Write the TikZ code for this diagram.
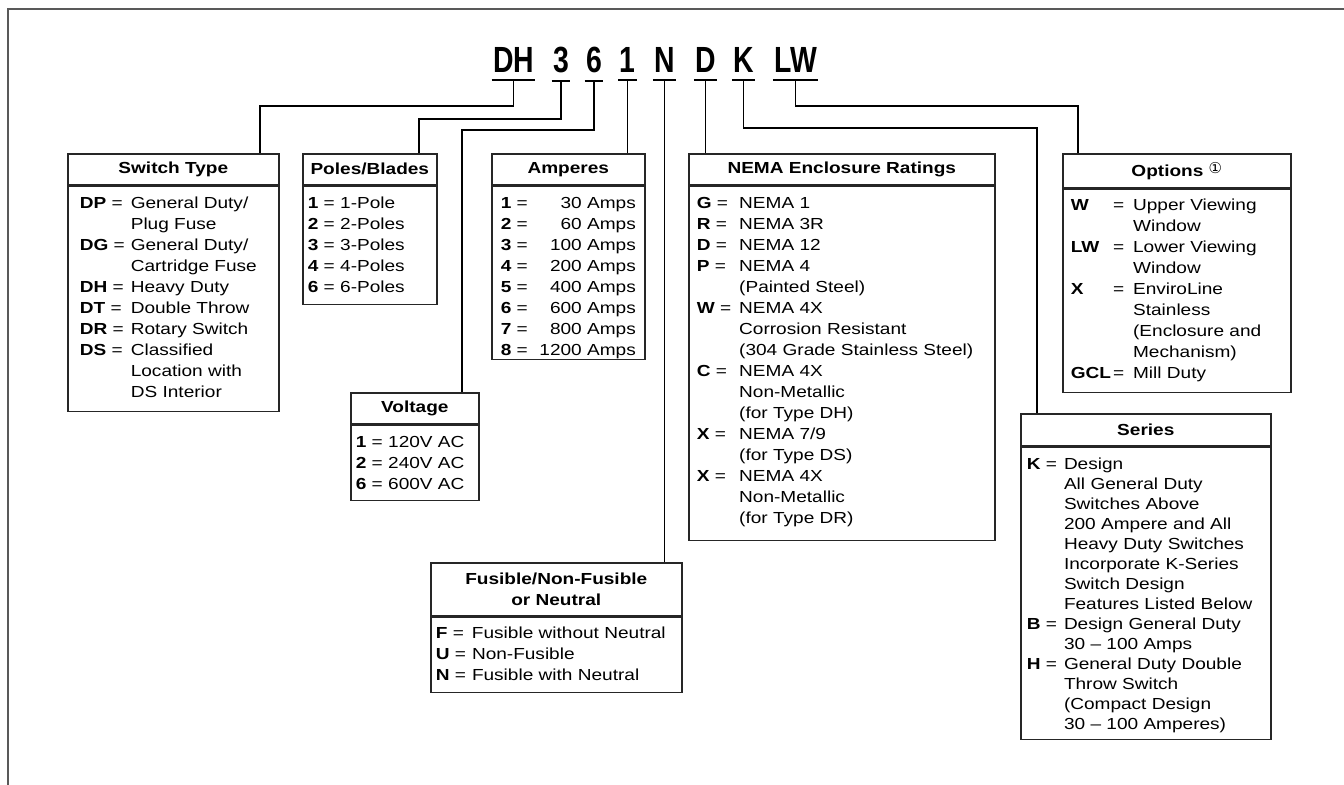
\documentclass[tikz,border=0pt]{standalone}
\usepackage{fontspec}
\setmainfont{Liberation Sans}[FakeStretch=1.19]
\newfontfamily\codefont{Liberation Sans}[FakeStretch=0.78]
\newfontfamily\circfont{DejaVu Sans}
\newcommand{\rows}[1]{\begin{tabular}[t]{@{}l@{}}#1\end{tabular}}
\newcommand{\pairs}[2]{\begin{tabular}[t]{@{}l@{\hspace{#1}}l@{}}#2\end{tabular}}

\begin{document}
\begin{tikzpicture}[x=0.5pt, y=-0.5pt,
    code/.style={font={\codefont\bfseries\fontsize{18.2}{20}\selectfont}, anchor=base, inner xsep=0.5pt, inner ysep=3.5pt},
    uline/.style={line width=1pt},
    link/.style={line width=0.7pt},
    hdr/.style={draw=black!85, line width=0.8pt, anchor=north west, inner sep=0pt, align=center, minimum height=15.5pt, font={\fontsize{8}{10.5}\selectfont\bfseries}},
    lst/.style={draw=black!85, line width=0.8pt, anchor=north west, inner ysep=0pt, inner xsep=3pt, align=left, text height=11pt, font={\fontsize{8}{10.5}\selectfont}},
    frame/.style={draw=black!65, line width=1.1pt}
]
\useasboundingbox (0,0) rectangle (1344,785);
\draw[frame] (1344,9) -- (8,9) -- (8,785);

\node[code] (cDH) at (513.5,73) {DH};
\node[code] (c3) at (561,73) {3};
\node[code] (c6) at (594,73) {6};
\node[code] (c1) at (627.5,73) {1};
\node[code] (cN) at (664.5,73) {N};
\node[code] (cD) at (705.5,73) {D};
\node[code] (cK) at (743.5,73) {K};
\node[code] (cLW) at (795.5,73) {LW};
\foreach \c in {DH,3,6,1,N,D,K,LW}
    \draw[uline] (c\c.south west) -- (c\c.south east);

\node[hdr, minimum width=105.5pt] (swt) at (67,153) {Switch Type};
\node[lst, inner xsep=6pt, text width=93.5pt, text depth=101.5pt] (swtb) at (swt.south west) {\pairs{3pt}{%
\textbf{DP} = & General Duty/\\
 & Plug Fuse\\
\textbf{DG} = & General Duty/\\
 & Cartridge Fuse\\
\textbf{DH} = & Heavy Duty\\
\textbf{DT} = & Double Throw\\
\textbf{DR} = & Rotary Switch\\
\textbf{DS} = & Classified\\
 & Location with\\
 & DS Interior}};

\node[hdr, minimum width=67pt] (pol) at (302,153) {Poles/Blades};
\node[lst, inner xsep=2.5pt, text width=62pt, text depth=48pt] (polb) at (pol.south west) {\rows{%
\textbf{1} = 1-Pole\\
\textbf{2} = 2-Poles\\
\textbf{3} = 3-Poles\\
\textbf{4} = 4-Poles\\
\textbf{6} = 6-Poles}};

\node[hdr, minimum width=64pt] (vol) at (350,392) {Voltage};
\node[lst, inner xsep=2.5pt, text width=59pt, text depth=26.5pt] (volb) at (vol.south west) {\rows{%
\textbf{1} = 120V AC\\
\textbf{2} = 240V AC\\
\textbf{6} = 600V AC}};

\node[hdr, minimum width=76.5pt] (amp) at (491,153) {Amperes};
\node[lst, inner xsep=4.5pt, text width=67.5pt, text depth=75.5pt] (ampb) at (amp.south west) {%
\begin{tabular*}{\linewidth}[t]{@{}l@{\extracolsep{\fill}}r@{}}
\textbf{1} = & 30 Amps\\
\textbf{2} = & 60 Amps\\
\textbf{3} = & 100 Amps\\
\textbf{4} = & 200 Amps\\
\textbf{5} = & 400 Amps\\
\textbf{6} = & 600 Amps\\
\textbf{7} = & 800 Amps\\
\textbf{8} = & 1200 Amps
\end{tabular*}};

\node[hdr, minimum width=125.5pt, minimum height=26.5pt] (fus) at (430,562) {Fusible/Non-Fusible\\or Neutral};
\node[lst, inner xsep=2.5pt, text width=120.5pt, text height=10.5pt, text depth=27pt] (fusb) at (fus.south west) {\pairs{3pt}{%
\textbf{F} = & Fusible without Neutral\\
\textbf{U} = & Non-Fusible\\
\textbf{N} = & Fusible with Neutral}};

\node[hdr, minimum width=153pt] (nem) at (688,153) {NEMA Enclosure Ratings};
\node[lst, inner xsep=4pt, text width=145pt, text depth=166pt] (nemb) at (nem.south west) {\pairs{4pt}{%
\textbf{G} = & NEMA 1\\
\textbf{R} = & NEMA 3R\\
\textbf{D} = & NEMA 12\\
\textbf{P} = & NEMA 4\\
 & (Painted Steel)\\
\textbf{W} = & NEMA 4X\\
 & Corrosion Resistant\\
 & (304 Grade Stainless Steel)\\
\textbf{C} = & NEMA 4X\\
 & Non-Metallic\\
 & (for Type DH)\\
\textbf{X} = & NEMA 7/9\\
 & (for Type DS)\\
\textbf{X} = & NEMA 4X\\
 & Non-Metallic\\
 & (for Type DR)}};

\node[hdr, minimum width=125pt, minimum height=16pt] (ser) at (1020,413) {Series};
\node[lst, inner xsep=3pt, text width=119pt, text depth=135pt, font={\fontsize{8}{10}\selectfont}] (serb) at (ser.south west) {\pairs{3.5pt}{%
\textbf{K} = & Design\\
 & All General Duty\\
 & Switches Above\\
 & 200 Ampere and All\\
 & Heavy Duty Switches\\
 & Incorporate K-Series\\
 & Switch Design\\
 & Features Listed Below\\
\textbf{B} = & Design General Duty\\
 & 30 – 100 Amps\\
\textbf{H} = & General Duty Double\\
 & Throw Switch\\
 & (Compact Design\\
 & 30 – 100 Amperes)}};

\node[hdr, minimum width=114pt, minimum height=17pt] (opt) at (1062,153) {Options \raisebox{1.5pt}{\circfont\mdseries\fontsize{7.5}{8}\selectfont ①}};
\node[lst, inner xsep=4pt, text width=106pt, text height=10.5pt, text depth=91pt] (optb) at (opt.south west) {%
\begin{tabular}[t]{@{}l@{\hspace{1pt}}l@{\hspace{4.5pt}}l@{}}
\textbf{W} & = & Upper Viewing\\
 & & Window\\
\textbf{LW} & = & Lower Viewing\\
 & & Window\\
\textbf{X} & = & EnviroLine\\
 & & Stainless\\
 & & (Enclosure and\\
 & & Mechanism)\\
\textbf{GCL} & = & Mill Duty
\end{tabular}};

\coordinate (kDH) at (260,106);
\coordinate (k3) at (419,119);
\coordinate (k6) at (462,130);
\coordinate (kK) at (1037,128);
\coordinate (kLW) at (1078,106);
\draw[link] (cDH.south) |- (kDH) -- (kDH |- swt.north);
\draw[link] (c3.south) |- (k3) -- (k3 |- pol.north);
\draw[link] (c6.south) |- (k6) -- (k6 |- vol.north);
\draw[link] (c1.south) -- (c1.south |- amp.north);
\draw[link] (cN.south) -- (cN.south |- fus.north);
\draw[link] (cD.south) -- (cD.south |- nem.north);
\draw[link] (cK.south) |- (kK) -- (kK |- ser.north);
\draw[link] (cLW.south) |- (kLW) -- (kLW |- opt.north);
\end{tikzpicture}
\end{document}
